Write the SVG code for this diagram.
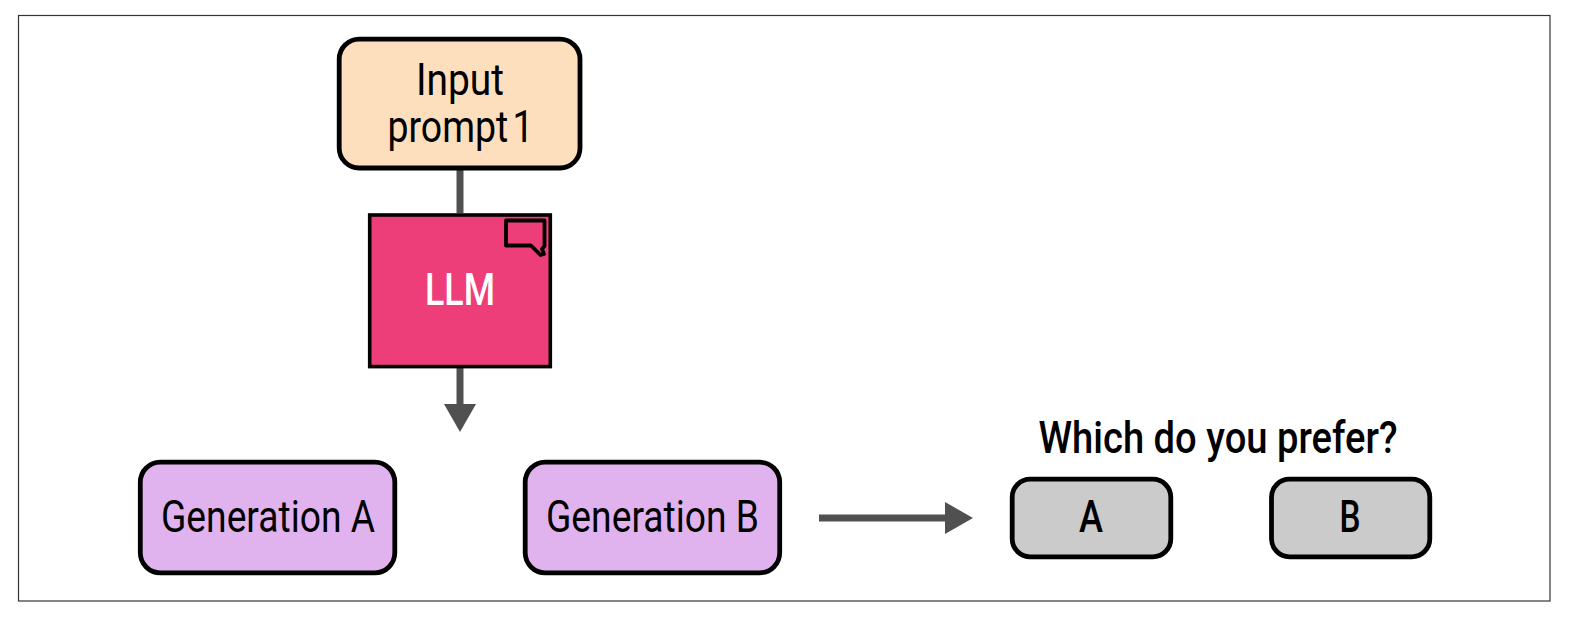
<svg xmlns="http://www.w3.org/2000/svg" width="1574" height="618" viewBox="0 0 1574 618">
<style>
.t{font-family:Roboto,"Liberation Sans",Arial,sans-serif;fill:#000;text-anchor:middle;font-size:45px}
.m{font-weight:500}
.box{stroke:#000;stroke-width:4.800}
.c{stroke:#505050;stroke-width:7;fill:none}
</style>
<defs>
<marker id="ah" markerUnits="userSpaceOnUse" markerWidth="30" markerHeight="34" refX="0" refY="17" orient="auto"><path d="M0 1L28 17L0 33Z" fill="#505050"/></marker>
</defs>
<rect width="1574" height="618" fill="#fff"/>
<rect x="18.500" y="15.500" width="1531.500" height="585.500" fill="#fff" stroke="#333" stroke-width="1.200"/>
<g id="connectors">
<path class="c" d="M460 168V213"/>
<path class="c" d="M460 368V404" marker-end="url(#ah)"/>
<path class="c" d="M819 518H945" marker-end="url(#ah)"/>
</g>
<g id="input">
<rect class="box" x="339.200" y="39.200" width="240.800" height="128.800" rx="20" fill="#fddfbd"/>
<text class="t" x="460" y="95" style="font-size:44px" textLength="88" lengthAdjust="spacingAndGlyphs">Input</text>
<text class="t" x="460.500" y="142" style="font-size:44px;word-spacing:-6px" textLength="146" lengthAdjust="spacingAndGlyphs">prompt 1</text>
</g>
<g id="llm">
<rect x="369.700" y="215" width="180.600" height="151.600" fill="#ee3e7a" stroke="#000" stroke-width="3.600"/>
<path d="M506 220.500H544.500V246L542 249L544 254L540.500 255L531 245.500H506Z" fill="none" stroke="#000" stroke-width="3.800" stroke-linejoin="round"/>
<text class="t m" x="460" y="305" textLength="70" lengthAdjust="spacingAndGlyphs" style="fill:#fff">LLM</text>
</g>
<g id="generation-a">
<rect class="box" x="140.300" y="462.200" width="254.500" height="110.600" rx="20" fill="#e0b3ef"/>
<text class="t" x="268" y="532" textLength="214" lengthAdjust="spacingAndGlyphs">Generation A</text>
</g>
<g id="generation-b">
<rect class="box" x="525.200" y="462.200" width="254.500" height="110.600" rx="20" fill="#e0b3ef"/>
<text class="t" x="652.500" y="532" textLength="213" lengthAdjust="spacingAndGlyphs">Generation B</text>
</g>
<g id="prompt">
<text class="t m" x="1218" y="453" textLength="359" lengthAdjust="spacingAndGlyphs">Which do you prefer?</text>
</g>
<g id="option-a">
<rect class="box" x="1012.200" y="479.200" width="158.600" height="77.600" rx="18" fill="#cbcbcb"/>
<text class="t m" x="1091" y="532" textLength="24" lengthAdjust="spacingAndGlyphs">A</text>
</g>
<g id="option-b">
<rect class="box" x="1271.500" y="479.200" width="158.300" height="77.600" rx="18" fill="#cbcbcb"/>
<text class="t m" x="1350" y="532" textLength="21" lengthAdjust="spacingAndGlyphs">B</text>
</g>
</svg>
